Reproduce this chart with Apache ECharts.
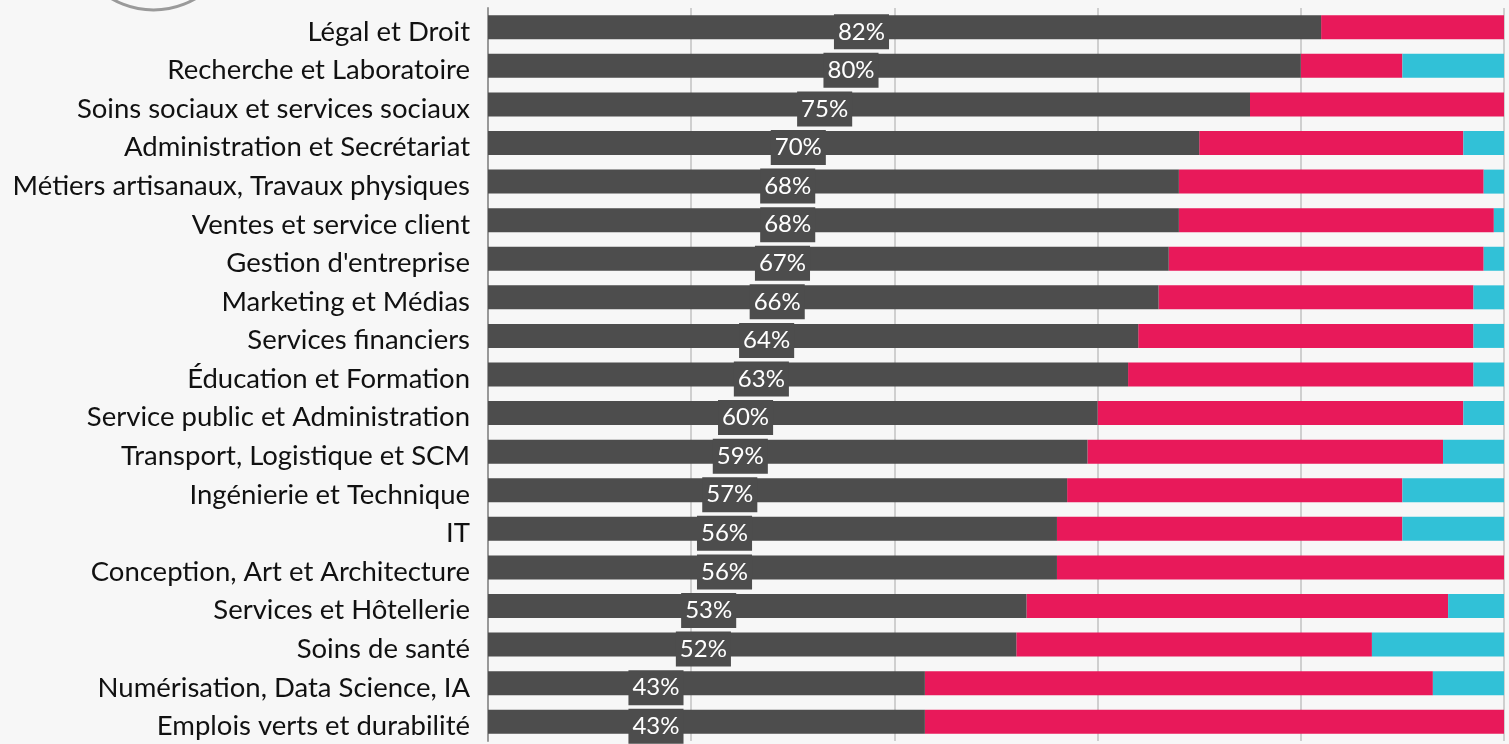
<!DOCTYPE html>
<html>
<head>
<meta charset="utf-8">
<script src="https://cdn.jsdelivr.net/npm/echarts@6/dist/echarts.min.js"></script>
<style>
  html, body { margin: 0; padding: 0; background: #f7f7f7; }
  #chart { width: 1509px; height: 744px; }
</style>
</head>
<body>
<div id="chart"></div>
<script>
// secteurs, de haut en bas
const categories = [
  'Légal et Droit', 'Recherche et Laboratoire', 'Soins sociaux et services sociaux',
  'Administration et Secrétariat', 'Métiers artisanaux, Travaux physiques', 'Ventes et service client',
  "Gestion d'entreprise", 'Marketing et Médias', 'Services financiers', 'Éducation et Formation',
  'Service public et Administration', 'Transport, Logistique et SCM', 'Ingénierie et Technique',
  'IT', 'Conception, Art et Architecture', 'Services et Hôtellerie', 'Soins de santé',
  'Numérisation, Data Science, IA', 'Emplois verts et durabilité'
]
const greyValues = [82, 80, 75, 70, 68, 68, 67, 66, 64, 63, 60, 59, 57, 56, 56, 53, 52, 43, 43]
const redValues  = [18, 10, 25, 26, 30, 31, 31, 31, 33, 34, 36, 35, 33, 34, 44, 41.5, 35, 50, 57]
const cyanValues = [0, 10, 0, 4, 2, 1, 2, 3, 3, 3, 4, 6, 10, 10, 0, 5.5, 13, 7, 0]

const GREY = '#4d4d4d', RED = '#e8195a', CYAN = '#31c1d7'

const chart = echarts.init(document.getElementById('chart'))

// label box sits a bit left of the bar middle
const greyData = greyValues.map(function (v) {
  const pct = (0.5187 - 5.77 / v) * 100
  return {
    value: v,
    label: { position: [pct.toFixed(2) + '%', '50%'] }
  }
})

const option = {
  backgroundColor: '#f7f7f7',
  animation: false,
  graphic: [{
    type: 'circle',
    shape: { cx: 153.5, cy: -73, r: 83 },
    style: { fill: 'none', stroke: '#9a9a9a', lineWidth: 3 }
  }],
  grid: { left: 488, right: 5, top: 8, bottom: 3, containLabel: false },
  xAxis: {
    type: 'value',
    min: 0,
    max: 100,
    interval: 20,
    axisLabel: { show: false },
    axisLine: { show: false },
    axisTick: { show: false },
    splitLine: { show: true, lineStyle: { color: '#cfcfcf', width: 2 } }
  },
  yAxis: {
    type: 'category',
    inverse: true,
    data: categories,
    axisTick: { show: false },
    axisLine: { show: true, lineStyle: { color: '#999', width: 2 } },
    axisLabel: {
      margin: 18,
      color: '#111',
      fontFamily: 'Lato',
      fontSize: 27.5,
      verticalAlign: 'top',
      lineHeight: 9
    }
  },
  series: [
    {
      name: 'grey',
      type: 'bar',
      stack: 'all',
      barWidth: 24,
      itemStyle: { color: GREY },
      label: {
        show: true,
        align: 'center',
        verticalAlign: 'middle',
        offset: [0, 4.5],
        formatter: '{c}%',
        color: '#fff',
        fontFamily: 'Lato',
        fontSize: 24,
        lineHeight: 29,
        backgroundColor: GREY,
        padding: [3, 4, 3, 4]
      },
      z: 3,
      data: greyData
    },
    {
      name: 'red',
      type: 'bar',
      stack: 'all',
      barWidth: 24,
      itemStyle: { color: RED },
      z: 2,
      data: redValues
    },
    {
      name: 'cyan',
      type: 'bar',
      stack: 'all',
      barWidth: 24,
      itemStyle: { color: CYAN },
      z: 2,
      data: cyanValues
    }
  ]
}
chart.setOption(option)
</script>
</body>
</html>
